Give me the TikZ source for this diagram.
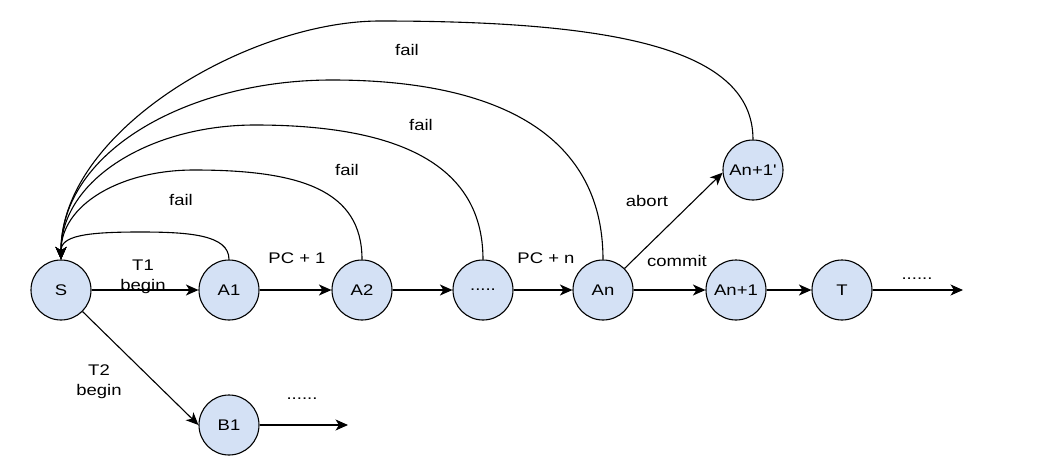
\documentclass[tikz,border=0pt]{standalone}
\usepackage{fontspec}
\newfontfamily\lblfamily{Liberation Sans}[FakeStretch=1.2]
\usetikzlibrary{arrows.meta}
\definecolor{statefill}{HTML}{D4E1F5}
\newcommand\labelfont{\lblfamily\fontsize{15.4}{19.5}\selectfont}
\begin{document}
\begin{tikzpicture}[x=1pt,y=-1pt,
  state/.style={circle,draw,line width=1.1pt,fill=statefill,minimum size=60pt,inner sep=0pt,font=\labelfont},
  edge/.style={line width=1.1pt,-{Stealth[length=12.5pt,width=11pt,inset=3.5pt]}},
  lbl/.style={font=\labelfont,align=center,inner sep=0pt,anchor=base}]
\useasboundingbox (0,0) rectangle (1037,469);

% states
\node[state] (S)    at (61,290)  {S};
\node[state] (A1)   at (229,290) {A1};
\node[state] (A2)   at (362,290) {A2};
\node[state] (D)    at (483,290) {.....};
\node[state] (An)   at (603,290) {An};
\node[state] (An1)  at (736,290) {An+1};
\node[state] (T)    at (842,290) {T};
\node[state] (An1p) at (753,170) {An+1'};
\node[state] (B1)   at (229,425) {B1};
\coordinate (Tend) at (963,290);
\coordinate (Bend) at (348,425);

% main chain
\draw[edge] (S) -- (A1);
\draw[edge] (A1) -- (A2);
\draw[edge] (A2) -- (D);
\draw[edge] (D) -- (An);
\draw[edge] (An) -- (An1);
\draw[edge] (An1) -- (T);
\draw[edge] (T) -- (Tend);
\draw[edge] (An.45) -- (An1p.185);
\draw[edge] (S.-45) -- (B1.west);
\draw[edge] (B1) -- (Bend);

% failure edges back to S
\draw[edge] (A1.north) .. controls (229,235) and (190,232) .. (140,232)
  .. controls (85,232) and (61,236) .. (S.north);
\draw[edge] (A2.north) .. controls (362,190) and (300,170) .. (194,170)
  .. controls (120,170) and (61,205) .. (S.north);
\draw[edge] (D.north) .. controls (483,160) and (390,125) .. (255,125)
  .. controls (150,125) and (61,180) .. (S.north);
\draw[edge] (An.north) .. controls (603,130) and (490,80) .. (332,80)
  .. controls (190,80) and (61,150) .. (S.north);
\draw[edge] (An1p.north) .. controls (753,50) and (620,21) .. (380,21)
  .. controls (250,21) and (61,130) .. (S.north);

% labels
\node[lbl] (lt1)  at (143,290) {T1\\begin};
\node[lbl] (lpc1) at (297,263.5) {PC + 1};
\node[lbl] (lpcn) at (546,263.5) {PC + n};
\node[lbl] (lcom) at (677,266) {commit};
\node[lbl] (lab)  at (647,206) {abort};
\node[lbl] (lt2)  at (99,395) {T2\\begin};
\node[lbl] (ldt)  at (917,279) {......};
\node[lbl] (ldb)  at (302,399) {......};
\node[lbl] (lf1)  at (181,205) {fail};
\node[lbl] (lf2)  at (347,175) {fail};
\node[lbl] (lf3)  at (421,130) {fail};
\node[lbl] (lf4)  at (407,55)  {fail};
\end{tikzpicture}
\end{document}
